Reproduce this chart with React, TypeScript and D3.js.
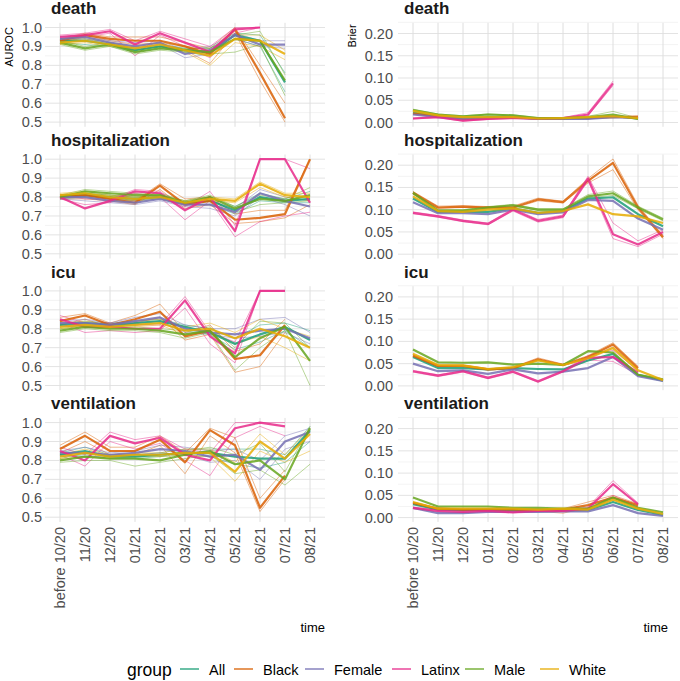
import React from "react";
import * as d3 from "d3";

const categories = ["before 10/20", "11/20", "12/20", "01/21", "02/21", "03/21", "04/21", "05/21", "06/21", "07/21", "08/21"];
const groups = ["All", "Black", "Female", "Latinx", "Male", "White"];
const groupColors = ["#1B9E77", "#D95F02", "#7570B3", "#E7298A", "#66A61E", "#E6AB02"];
const outcomes = ["death", "hospitalization", "icu", "ventilation"];
const aurocTicks = [0.5, 0.6, 0.7, 0.8, 0.9, 1.0];
const aurocMinor = [0.55, 0.65, 0.75, 0.85, 0.95];
const brierTicks = [0, 0.05, 0.1, 0.15, 0.2];
const brierMinor = [0.025, 0.075, 0.125, 0.175, 0.225];

type S = Record<string, (number | null)[]>;

// ---------- AUROC (main lines) ----------
const deathAuroc: S = {
  All: [0.93, 0.93, 0.91, 0.88, 0.9, 0.88, 0.87, 0.96, 0.93, 0.71],
  Black: [0.93, 0.96, 0.94, 0.93, 0.93, 0.9, 0.86, 0.99, 0.76, 0.52],
  Female: [0.94, 0.95, 0.92, 0.9, 0.92, 0.86, 0.88, 0.96, 0.91, 0.91],
  Latinx: [0.95, 0.96, 0.98, 0.91, 0.97, 0.92, 0.87, 0.99, 1.0],
  Male: [0.92, 0.89, 0.91, 0.87, 0.89, 0.88, 0.87, 0.94, 0.93, 0.72],
  White: [0.92, 0.93, 0.91, 0.89, 0.91, 0.88, 0.85, 0.94, 0.93, 0.86],
};
const hospAuroc: S = {
  All: [0.8, 0.81, 0.8, 0.79, 0.8, 0.77, 0.78, 0.73, 0.8, 0.78, 0.79],
  Black: [0.8, 0.81, 0.79, 0.77, 0.86, 0.76, 0.78, 0.68, 0.69, 0.71, 1.0],
  Female: [0.8, 0.8, 0.78, 0.77, 0.79, 0.76, 0.76, 0.72, 0.82, 0.78, 0.75],
  Latinx: [0.8, 0.74, 0.78, 0.83, 0.82, 0.73, 0.8, 0.62, 1.0, 1.0, 0.77],
  Male: [0.8, 0.83, 0.82, 0.81, 0.81, 0.77, 0.8, 0.74, 0.79, 0.78, 0.81],
  White: [0.81, 0.82, 0.8, 0.79, 0.8, 0.77, 0.79, 0.78, 0.87, 0.81, 0.8],
};
const icuAuroc: S = {
  All: [0.82, 0.83, 0.82, 0.83, 0.84, 0.81, 0.78, 0.72, 0.77, 0.81, 0.74],
  Black: [0.84, 0.87, 0.82, 0.85, 0.89, 0.76, 0.79, 0.64, 0.66, 0.82],
  Female: [0.83, 0.83, 0.82, 0.84, 0.86, 0.8, 0.78, 0.77, 0.79, 0.8, 0.75],
  Latinx: [0.85, 0.81, 0.81, 0.8, 0.8, 0.95, 0.76, 0.67, 1.0, 1.0],
  Male: [0.79, 0.81, 0.8, 0.8, 0.79, 0.77, 0.79, 0.65, 0.75, 0.81, 0.63],
  White: [0.81, 0.82, 0.81, 0.82, 0.83, 0.79, 0.8, 0.75, 0.8, 0.76, 0.7],
};
const ventAuroc: S = {
  All: [0.83, 0.85, 0.82, 0.82, 0.83, 0.84, 0.84, 0.82, 0.81, 0.81, 0.96],
  Black: [0.86, 0.93, 0.85, 0.85, 0.91, 0.79, 0.96, 0.88, 0.55, 0.72],
  Female: [0.84, 0.84, 0.83, 0.84, 0.86, 0.85, 0.82, 0.83, 0.75, 0.9, 0.95],
  Latinx: [0.85, 0.8, 0.93, 0.89, 0.92, 0.83, 0.8, 0.97, 1.0, 0.98],
  Male: [0.8, 0.82, 0.81, 0.81, 0.8, 0.83, 0.85, 0.78, 0.8, 0.7, 0.97],
  White: [0.82, 0.84, 0.82, 0.83, 0.83, 0.84, 0.84, 0.74, 0.9, 0.81, 0.94],
};

// ---------- AUROC (thin resample lines: low / high) ----------
const deathAurocLo: S = {
  All: [0.92, 0.91, 0.9, 0.87, 0.89, 0.87, 0.85, 0.94, 0.9, 0.66],
  Black: [0.92, 0.95, 0.93, 0.91, 0.92, 0.88, 0.81, 0.97, 0.72, 0.5],
  Female: [0.93, 0.94, 0.91, 0.89, 0.91, 0.84, 0.86, 0.94, 0.9, 0.89],
  Latinx: [0.94, 0.95, 0.97, 0.85, 0.96, 0.9, 0.84, 0.97, 1.0],
  Male: [0.91, 0.88, 0.9, 0.86, 0.88, 0.87, 0.86, 0.87, 0.91, 0.64],
  White: [0.91, 0.92, 0.9, 0.88, 0.9, 0.87, 0.8, 0.92, 0.9, 0.83],
};
const deathAurocHi: S = {
  All: [0.94, 0.94, 0.92, 0.89, 0.91, 0.89, 0.89, 0.97, 0.96, 0.76],
  Black: [0.94, 0.97, 0.95, 0.95, 0.95, 0.92, 0.89, 1.0, 0.8, 0.6],
  Female: [0.95, 0.96, 0.93, 0.92, 0.93, 0.88, 0.9, 0.97, 0.93, 0.93],
  Latinx: [0.96, 0.97, 0.99, 0.93, 0.98, 0.94, 0.9, 1.0, 1.0],
  Male: [0.93, 0.9, 0.92, 0.88, 0.9, 0.89, 0.89, 0.96, 0.98, 0.75],
  White: [0.93, 0.94, 0.92, 0.9, 0.92, 0.9, 0.88, 0.96, 0.96, 0.88],
};
const hospAurocLo: S = {
  All: [0.79, 0.8, 0.79, 0.78, 0.79, 0.76, 0.76, 0.71, 0.78, 0.77, 0.77],
  Black: [0.79, 0.79, 0.78, 0.76, 0.84, 0.74, 0.76, 0.66, 0.67, 0.69, 0.76],
  Female: [0.79, 0.78, 0.77, 0.76, 0.78, 0.75, 0.74, 0.7, 0.8, 0.76, 0.7],
  Latinx: [0.79, 0.76, 0.77, 0.82, 0.8, 0.68, 0.78, 0.59, 0.67, 0.7, 0.72],
  Male: [0.79, 0.82, 0.81, 0.8, 0.8, 0.76, 0.79, 0.72, 0.76, 0.77, 0.78],
  White: [0.8, 0.81, 0.79, 0.78, 0.79, 0.76, 0.78, 0.77, 0.85, 0.8, 0.78],
};
const hospAurocHi: S = {
  All: [0.81, 0.82, 0.81, 0.8, 0.81, 0.78, 0.8, 0.75, 0.82, 0.79, 0.83],
  Black: [0.81, 0.82, 0.8, 0.78, 0.87, 0.79, 0.8, 0.71, 0.73, 0.73, 1.0],
  Female: [0.81, 0.81, 0.79, 0.78, 0.8, 0.77, 0.78, 0.74, 0.84, 0.8, 0.78],
  Latinx: [0.81, 0.79, 0.79, 0.84, 0.83, 0.75, 0.83, 0.65, 1.0, 1.0, 0.95],
  Male: [0.81, 0.84, 0.83, 0.82, 0.82, 0.78, 0.81, 0.75, 0.81, 0.79, 0.85],
  White: [0.82, 0.83, 0.81, 0.8, 0.81, 0.78, 0.8, 0.79, 0.88, 0.82, 0.82],
};
const icuAurocLo: S = {
  All: [0.81, 0.82, 0.81, 0.82, 0.83, 0.79, 0.77, 0.69, 0.73, 0.79, 0.7],
  Black: [0.82, 0.85, 0.81, 0.83, 0.86, 0.74, 0.77, 0.57, 0.6, 0.78],
  Female: [0.82, 0.81, 0.81, 0.83, 0.84, 0.78, 0.77, 0.75, 0.76, 0.78, 0.72],
  Latinx: [0.83, 0.78, 0.79, 0.78, 0.79, 0.91, 0.72, 0.62, 1.0, 1.0],
  Male: [0.78, 0.8, 0.79, 0.79, 0.78, 0.75, 0.78, 0.58, 0.7, 0.79, 0.5],
  White: [0.8, 0.81, 0.8, 0.81, 0.82, 0.77, 0.79, 0.72, 0.76, 0.7, 0.63],
};
const icuAurocHi: S = {
  All: [0.83, 0.84, 0.83, 0.84, 0.85, 0.82, 0.8, 0.75, 0.82, 0.83, 0.79],
  Black: [0.86, 0.88, 0.83, 0.87, 0.93, 0.78, 0.82, 0.68, 0.72, 0.85],
  Female: [0.84, 0.85, 0.83, 0.86, 0.88, 0.82, 0.8, 0.8, 0.85, 0.86, 0.78],
  Latinx: [0.87, 0.83, 0.83, 0.82, 0.82, 0.97, 0.78, 0.73, 1.0, 1.0],
  Male: [0.8, 0.82, 0.81, 0.81, 0.8, 0.79, 0.81, 0.7, 0.84, 0.83, 0.7],
  White: [0.82, 0.84, 0.82, 0.84, 0.85, 0.81, 0.83, 0.78, 0.85, 0.8, 0.76],
};
const ventAurocLo: S = {
  All: [0.82, 0.83, 0.81, 0.81, 0.82, 0.83, 0.82, 0.78, 0.76, 0.79, 0.9],
  Black: [0.84, 0.9, 0.83, 0.83, 0.88, 0.73, 0.93, 0.84, 0.53, 0.7],
  Female: [0.83, 0.82, 0.82, 0.83, 0.84, 0.83, 0.79, 0.8, 0.7, 0.86, 0.9],
  Latinx: [0.83, 0.77, 0.9, 0.86, 0.89, 0.8, 0.72, 0.92, 0.98, 0.93],
  Male: [0.79, 0.8, 0.8, 0.77, 0.79, 0.81, 0.83, 0.73, 0.75, 0.67, 0.78],
  White: [0.81, 0.82, 0.81, 0.82, 0.82, 0.83, 0.82, 0.69, 0.85, 0.79, 0.85],
};
const ventAurocHi: S = {
  All: [0.84, 0.87, 0.83, 0.83, 0.84, 0.86, 0.86, 0.86, 0.86, 0.83, 0.98],
  Black: [0.88, 0.95, 0.87, 0.87, 0.93, 0.84, 0.97, 0.92, 0.6, 0.75],
  Female: [0.85, 0.87, 0.84, 0.85, 0.88, 0.87, 0.85, 0.86, 0.8, 0.93, 0.97],
  Latinx: [0.87, 0.83, 0.95, 0.91, 0.93, 0.86, 0.84, 1.0, 1.0, 1.0],
  Male: [0.81, 0.84, 0.82, 0.83, 0.82, 0.85, 0.87, 0.83, 0.89, 0.74, 0.98],
  White: [0.83, 0.86, 0.83, 0.84, 0.84, 0.86, 0.86, 0.79, 0.94, 0.83, 0.97],
};

// ---------- Brier (main lines) ----------
const deathBrier: S = {
  All: [0.022, 0.014, 0.01, 0.012, 0.012, 0.009, 0.009, 0.01, 0.014, 0.01],
  Black: [0.02, 0.014, 0.008, 0.01, 0.012, 0.008, 0.009, 0.01, 0.012, 0.013],
  Female: [0.018, 0.012, 0.008, 0.01, 0.011, 0.008, 0.008, 0.008, 0.012, 0.01],
  Latinx: [0.009, 0.012, 0.004, 0.008, 0.01, 0.009, 0.01, 0.018, 0.088],
  Male: [0.028, 0.018, 0.014, 0.018, 0.016, 0.01, 0.01, 0.012, 0.018, 0.008],
  White: [0.026, 0.016, 0.012, 0.012, 0.012, 0.009, 0.01, 0.012, 0.014, 0.01],
};
const hospBrier: S = {
  All: [0.125, 0.095, 0.095, 0.095, 0.103, 0.093, 0.097, 0.125, 0.128, 0.09, 0.063],
  Black: [0.138, 0.105, 0.107, 0.105, 0.105, 0.123, 0.117, 0.165, 0.205, 0.105, 0.038],
  Female: [0.117, 0.092, 0.092, 0.09, 0.1, 0.09, 0.094, 0.122, 0.12, 0.08, 0.055],
  Latinx: [0.093, 0.085, 0.075, 0.068, 0.1, 0.075, 0.085, 0.17, 0.045, 0.022, 0.05],
  Male: [0.138, 0.098, 0.098, 0.105, 0.11, 0.1, 0.1, 0.13, 0.137, 0.105, 0.078],
  White: [0.13, 0.097, 0.095, 0.1, 0.103, 0.093, 0.097, 0.112, 0.09, 0.085, 0.07],
};
const icuBrier: S = {
  All: [0.065, 0.04, 0.04, 0.037, 0.04, 0.038, 0.037, 0.057, 0.072, 0.025, 0.012],
  Black: [0.068, 0.045, 0.045, 0.037, 0.04, 0.06, 0.047, 0.065, 0.093, 0.04],
  Female: [0.05, 0.033, 0.035, 0.027, 0.037, 0.028, 0.032, 0.04, 0.065, 0.022, 0.011],
  Latinx: [0.033, 0.023, 0.033, 0.018, 0.032, 0.01, 0.033, 0.063, 0.065, 0.03],
  Male: [0.082, 0.053, 0.052, 0.053, 0.048, 0.05, 0.047, 0.078, 0.075, 0.025, 0.015],
  White: [0.072, 0.047, 0.046, 0.038, 0.042, 0.057, 0.047, 0.062, 0.085, 0.035, 0.013],
};
const ventBrier: S = {
  All: [0.03, 0.018, 0.017, 0.018, 0.017, 0.016, 0.017, 0.017, 0.035, 0.017, 0.006],
  Black: [0.033, 0.02, 0.018, 0.018, 0.018, 0.016, 0.018, 0.028, 0.045, 0.028],
  Female: [0.022, 0.01, 0.01, 0.013, 0.013, 0.013, 0.014, 0.014, 0.028, 0.01, 0.004],
  Latinx: [0.022, 0.015, 0.013, 0.015, 0.012, 0.015, 0.015, 0.02, 0.075, 0.03],
  Male: [0.045, 0.025, 0.025, 0.025, 0.022, 0.022, 0.02, 0.02, 0.045, 0.022, 0.012],
  White: [0.035, 0.02, 0.02, 0.02, 0.02, 0.018, 0.02, 0.018, 0.04, 0.02, 0.008],
};

// ---------- Brier (thin resample lines, only where visible) ----------
const deathBrierLo: S = {
  Latinx: [0.008, 0.011, 0.003, 0.007, 0.009, 0.008, 0.009, 0.015, 0.083],
  Male: [0.026, 0.017, 0.013, 0.017, 0.015, 0.009, 0.009, 0.011, 0.014, 0.007],
};
const deathBrierHi: S = {
  Latinx: [0.01, 0.013, 0.005, 0.009, 0.011, 0.01, 0.011, 0.022, 0.093],
  Male: [0.03, 0.019, 0.015, 0.019, 0.017, 0.011, 0.011, 0.014, 0.025, 0.01],
};
const hospBrierLo: S = {
  Black: [0.135, 0.103, 0.105, 0.103, 0.103, 0.12, 0.115, 0.16, 0.19, 0.1, 0.035],
  Latinx: [0.091, 0.083, 0.073, 0.066, 0.097, 0.072, 0.082, 0.165, 0.035, 0.017, 0.045],
  Male: [0.135, 0.096, 0.096, 0.103, 0.108, 0.098, 0.098, 0.127, 0.132, 0.102, 0.075],
};
const hospBrierHi: S = {
  Black: [0.141, 0.108, 0.109, 0.107, 0.108, 0.126, 0.119, 0.17, 0.214, 0.11, 0.042],
  Latinx: [0.095, 0.087, 0.077, 0.07, 0.103, 0.078, 0.088, 0.175, 0.07, 0.03, 0.055],
  Male: [0.141, 0.1, 0.1, 0.107, 0.112, 0.102, 0.102, 0.134, 0.142, 0.108, 0.081],
};
const icuBrierLo: S = {
  Latinx: [0.031, 0.021, 0.031, 0.016, 0.03, 0.008, 0.031, 0.058, 0.055, 0.025],
  Black: [0.066, 0.043, 0.043, 0.035, 0.038, 0.057, 0.045, 0.062, 0.088, 0.037],
};
const icuBrierHi: S = {
  Latinx: [0.035, 0.025, 0.035, 0.02, 0.034, 0.012, 0.035, 0.068, 0.08, 0.035],
  Black: [0.07, 0.047, 0.047, 0.039, 0.042, 0.063, 0.049, 0.068, 0.097, 0.044],
};
const ventBrierLo: S = {
  Latinx: [0.02, 0.013, 0.011, 0.013, 0.01, 0.013, 0.013, 0.017, 0.05, 0.025],
  Black: [0.031, 0.018, 0.016, 0.016, 0.016, 0.014, 0.01, 0.022, 0.04, 0.025],
};
const ventBrierHi: S = {
  Latinx: [0.024, 0.017, 0.015, 0.017, 0.014, 0.017, 0.017, 0.024, 0.083, 0.033],
  Black: [0.035, 0.022, 0.02, 0.02, 0.02, 0.018, 0.02, 0.035, 0.05, 0.031],
};

const aurocMain = [deathAuroc, hospAuroc, icuAuroc, ventAuroc];
const aurocThin = [
  [deathAurocLo, deathAurocHi],
  [hospAurocLo, hospAurocHi],
  [icuAurocLo, icuAurocHi],
  [ventAurocLo, ventAurocHi],
];
const brierMain = [deathBrier, hospBrier, icuBrier, ventBrier];
const brierThin = [
  [deathBrierLo, deathBrierHi],
  [hospBrierLo, hospBrierHi],
  [icuBrierLo, icuBrierHi],
  [ventBrierLo, ventBrierHi],
];

const FONT = "'Liberation Sans', Arial, Helvetica, sans-serif";
const ROW_TOP = 22.8;
const ROW_STEP = 131.7;
const PANEL_H = 104;

function Panel({ row, col }: { row: number; col: number }) {
  const T = ROW_TOP + ROW_STEP * row;
  const x0 = col === 0 ? 45 : 398;
  const x1 = col === 0 ? 325 : 678;
  const x = d3.scalePoint<string>().domain(categories).range([x0 + 15, x1 - 15]);
  const y =
    col === 0
      ? d3.scaleLinear().domain([0.5, 1.0]).range([T + 99.3, T + 4.7])
      : d3.scaleLinear().domain([0, 0.2]).range([T + 99.7, T + 10.7]);
  const ticks = col === 0 ? aurocTicks : brierTicks;
  const minor = (col === 0 ? aurocMinor : brierMinor).filter((v) => {
    const p = y(v);
    return p >= T - 0.5 && p <= T + PANEL_H;
  });
  const fmt = col === 0 ? d3.format(".1f") : d3.format(".2f");
  const main = col === 0 ? aurocMain[row] : brierMain[row];
  const thin = col === 0 ? aurocThin[row] : brierThin[row];

  const line = d3
    .line<number | null>()
    .defined((d) => d !== null)
    .x((_, i) => x(categories[i]) as number)
    .y((d) => y(d as number));

  return (
    <g>
      {minor.map((v) => (
        <line key={"mn" + v} x1={x0} x2={x1} y1={y(v)} y2={y(v)} stroke="#EBEBEB" strokeWidth={0.6} />
      ))}
      {ticks.map((v) => (
        <line key={"mj" + v} x1={x0} x2={x1} y1={y(v)} y2={y(v)} stroke="#E3E3E3" strokeWidth={1} />
      ))}
      {categories.map((c) => (
        <line key={"v" + c} x1={x(c)} x2={x(c)} y1={T} y2={T + PANEL_H} stroke="#DEDEDE" strokeWidth={1} />
      ))}
      {ticks.map((v) => (
        <text
          key={"t" + v}
          x={col === 0 ? 42 : 393}
          y={y(v)}
          textAnchor="end"
          dominantBaseline="central"
          fontSize={14.5}
          fill="#4D4D4D"
          fontFamily={FONT}
        >
          {fmt(v)}
        </text>
      ))}
      <text x={x0 + 6} y={T - 8.5} fontSize={17} fontWeight="bold" fill="#1A1A1A" fontFamily={FONT}>
        {outcomes[row]}
      </text>
      {groups.map((g, gi) =>
        thin.map((set, si) =>
          set[g] ? (
            <path
              key={"th" + g + si}
              d={line(set[g]) || ""}
              fill="none"
              stroke={groupColors[gi]}
              strokeWidth={1}
              strokeOpacity={0.45}
            />
          ) : null
        )
      )}
      {groups.map((g, gi) => (
        <path
          key={"m" + g}
          d={line(main[g]) || ""}
          fill="none"
          stroke={groupColors[gi]}
          strokeWidth={2.2}
          strokeOpacity={0.85}
          strokeLinejoin="round"
        />
      ))}
      {row === 3 &&
        categories.map((c) => (
          <text
            key={"xl" + c}
            transform={`translate(${x(c)},527) rotate(-90)`}
            textAnchor="end"
            dominantBaseline="central"
            fontSize={14.5}
            fill="#4D4D4D"
            fontFamily={FONT}
          >
            {c}
          </text>
        ))}
    </g>
  );
}

export default function App() {
  const legendKeys = [180, 234, 305, 392, 465, 540];
  return (
    <svg
      width={680}
      height={681}
      style={{ position: "absolute", left: 0, top: 0, background: "#FFFFFF" }}
      fontFamily={FONT}
    >
      <rect x={0} y={0} width={680} height={681} fill="#FFFFFF" />
      {outcomes.map((_, r) => (
        <g key={r}>
          <Panel row={r} col={0} />
          <Panel row={r} col={1} />
        </g>
      ))}
      <text transform="translate(8.5,47) rotate(-90)" textAnchor="middle" dominantBaseline="central" fontSize={11} fill="#000">
        AUROC
      </text>
      <text transform="translate(352,36) rotate(-90)" textAnchor="middle" dominantBaseline="central" fontSize={11} fill="#000">
        Brier
      </text>
      <text x={325} y={627} textAnchor="end" dominantBaseline="central" fontSize={13} fill="#000">
        time
      </text>
      <text x={668} y={627} textAnchor="end" dominantBaseline="central" fontSize={13} fill="#000">
        time
      </text>
      <text x={127} y={670} dominantBaseline="central" fontSize={17.5} fill="#000">
        group
      </text>
      {groups.map((g, i) => (
        <g key={"lg" + g}>
          <line x1={legendKeys[i]} x2={legendKeys[i] + 19} y1={669} y2={669} stroke={groupColors[i]} strokeWidth={2} strokeOpacity={0.65} />
          <text x={legendKeys[i] + 29} y={670} dominantBaseline="central" fontSize={14.5} fill="#000">
            {g}
          </text>
        </g>
      ))}
    </svg>
  );
}
